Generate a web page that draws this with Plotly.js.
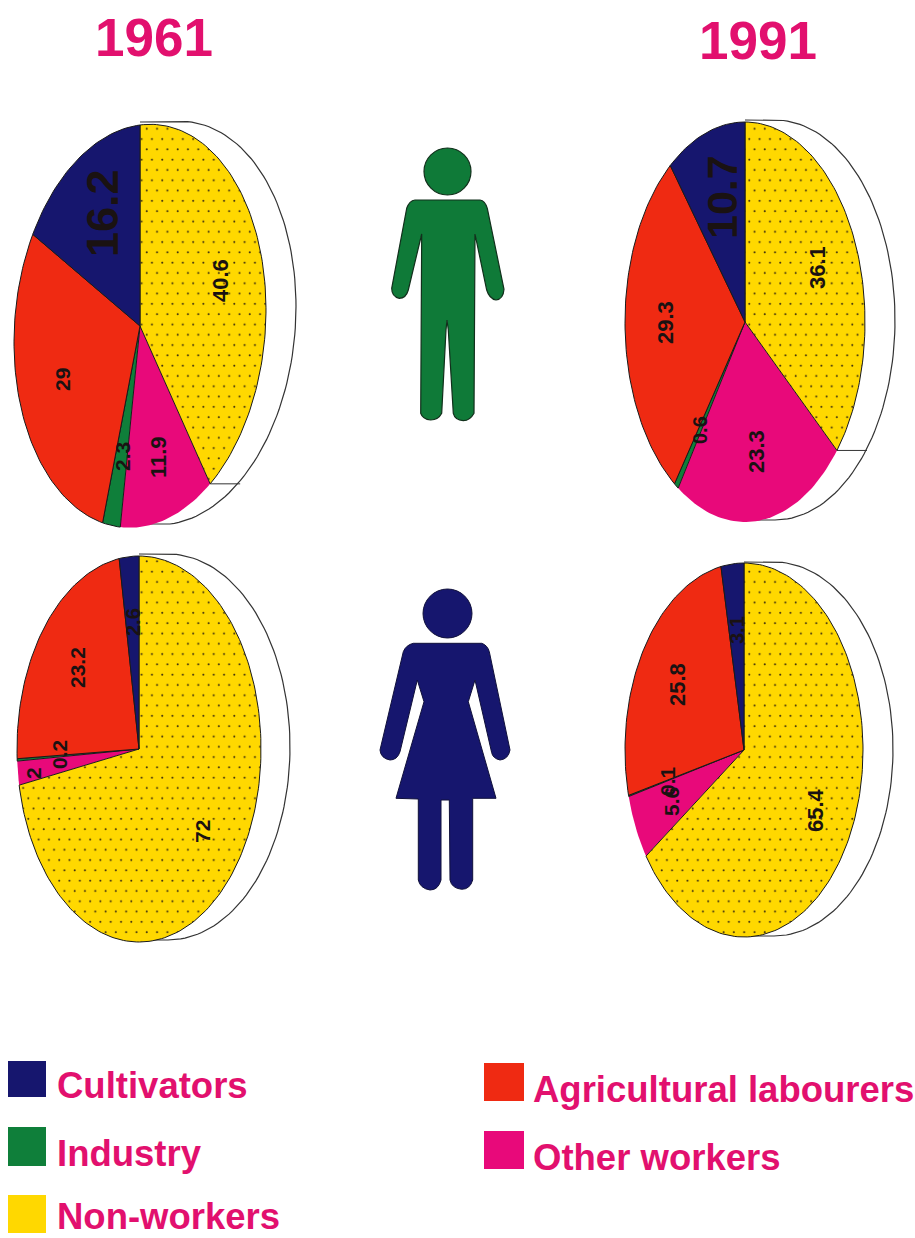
<!DOCTYPE html>
<html>
<head>
<meta charset="utf-8">
<script src="https://cdn.plot.ly/plotly-3.0.1.min.js"></script>
<style>html,body{margin:0;padding:0;background:#fff}#chart{width:915px;height:1238px}</style>
</head>
<body>
<div id="chart"></div>
<script>
// ---- data ----
var categories = ['Non-workers', 'Other workers', 'Industry', 'Agricultural labourers', 'Cultivators'];
var male1961 = [40.6, 11.9, 2.3, 29, 16.2];
var male1991 = [36.1, 23.3, 0.6, 29.3, 10.7];
var female1961 = [72, 2, 0.2, 23.2, 2.6];
var female1991 = [65.4, 5.6, 0.1, 25.8, 3.1];
var years = ['1961', '1991'];
var legendCategories = ['Cultivators', 'Industry', 'Non-workers', 'Agricultural labourers', 'Other workers'];

// ---- style and placement ----
var colors = {'Non-workers':'#ffd800','Other workers':'#e8097a','Industry':'#0f7f3a','Agricultural labourers':'#ef2a12','Cultivators':'#16166e'};
var pink = '#e2106e';
var labelFont = 'Liberation Sans, Arial, sans-serif';
var pies = [
  {name:'Men 1961', vals:male1961, cx:140, cy:326, rx:126, ry:201, shear:0.13, dx:30, dy:-3,
   lx:[220,158,122,62,102], ly:[281,457,457,380,213], fs:[22,22,21,21,45]},
  {name:'Men 1991', vals:male1991, cx:745, cy:322, rx:120, ry:200, shear:0, dx:30, dy:-2,
   lx:[817,756,700,665,722], ly:[268,452,430,323,197], fs:[22,22,20,22,43]},
  {name:'Women 1961', vals:female1961, cx:139, cy:749, rx:122, ry:193, shear:0, dx:29, dy:-2,
   lx:[202,33,59,77,133], ly:[832,773,755,668,622], fs:[21,21,21,21,20]},
  {name:'Women 1991', vals:female1991, cx:744, cy:750, rx:119, ry:187, shear:0, dx:30, dy:-1,
   lx:[815,671,667,677,737], ly:[810,802,781,685,630], fs:[22,21,21,22,20]}
];

function pt(p, deg, ox, oy) {
  var a = deg * Math.PI / 180, sx = p.rx * Math.sin(a), sy = -p.ry * Math.cos(a);
  return [p.cx + sx + (ox||0), p.cy + sy - p.shear * sx + (oy||0)];
}

var traces = [], annotations = [], shapes = [];

pies.forEach(function (p) {
  // extruded rim behind the pie
  var rx = [], ry = [];
  var tip = pt(p, 0, p.dx, p.dy);
  rx.push(p.cx); ry.push(tip[1]);
  for (var d = 0; d <= 180; d += 2) { var q = pt(p, d, p.dx, p.dy); rx.push(q[0]); ry.push(q[1]); }
  rx.push(p.cx); ry.push(ry[ry.length-1]);
  traces.push({type:'scatter', mode:'lines', x:rx, y:ry, fill:'toself', fillcolor:'#ffffff',
    line:{color:'#333333', width:1.2}, hoverinfo:'skip', showlegend:false});
  // slices, clockwise from twelve o'clock; the pink slice has no outline of its own, so it goes down first
  var total = p.vals.reduce(function (a, b) { return a + b; }, 0), cum = 0, sliceTraces = [];
  p.vals.forEach(function (v, i) {
    var a0 = cum / total * 360, a1 = (cum + v) / total * 360;
    cum += v;
    var xs = [p.cx], ys = [p.cy], n = Math.max(2, Math.ceil((a1 - a0) / 1.5));
    for (var k = 0; k <= n; k++) { var e = pt(p, a0 + (a1 - a0) * k / n); xs.push(e[0]); ys.push(e[1]); }
    xs.push(p.cx); ys.push(p.cy);
    var isPink = categories[i] === 'Other workers';
    var t = {type:'scatter', mode:'lines', x:xs, y:ys, fill:'toself', fillcolor:colors[categories[i]],
      line:{color:'#1a1a1a', width:isPink ? 0 : 1}, name:categories[i], showlegend:false,
      hoveron:'fills', text:p.name + ' ' + categories[i] + ': ' + v + '%', hoverinfo:'text'};
    if (i === 0) {
      t.fillpattern = {shape:'.', bgcolor:colors[categories[i]], fgcolor:'#3a2c10', size:10.3, solidity:0.03};
      // end face of the extrusion, seen at the yellow slice's lower edge
      var f = pt(p, a1), g = pt(p, a1, p.dx, p.dy);
      if (p.name.indexOf('Men') === 0) {
        traces.push({type:'scatter', mode:'lines', x:[f[0], g[0]], y:[f[1], f[1]], line:{color:'#333333', width:1}, hoverinfo:'skip', showlegend:false});
      }
    }
    if (isPink) sliceTraces.unshift(t); else sliceTraces.push(t);
    annotations.push({x:p.lx[i], y:p.ly[i], xref:'x', yref:'y', text:'<b>' + v + '</b>', textangle:-90, showarrow:false,
      xanchor:'center', yanchor:'middle', font:{family:labelFont, size:p.fs[i], color:'#1a1212'}});
  });
  traces = traces.concat(sliceTraces);
});

// year headings
[[154, 37], [758, 40]].forEach(function (c, i) {
  annotations.push({x:c[0], y:c[1], xref:'x', yref:'y', text:'<b>' + years[i] + '</b>', showarrow:false,
    xanchor:'center', yanchor:'middle', font:{family:labelFont, size:53, color:pink}});
});

// legend
var legendBoxes = [[8,46,1061,1097],[8,46,1127,1166],[8,46,1195,1233],[484,524,1063,1101],[484,524,1131,1169]];
var legendText = [[55,1085],[55,1153],[55,1216.5],[531,1089],[531,1157]];
legendCategories.forEach(function (c, i) {
  var b = legendBoxes[i];
  shapes.push({type:'rect', xref:'x', yref:'y', x0:b[0], x1:b[1], y0:b[2], y1:b[3], fillcolor:colors[c], line:{width:0}});
  annotations.push({x:legendText[i][0], y:legendText[i][1], xref:'x', yref:'y', text:'<b>' + c + '</b>', showarrow:false,
    xanchor:'left', yanchor:'middle', font:{family:labelFont, size:36.5, color:pink}});
});

// human figures, outlined from the picture
function figurePath(ox, oy, cmds) {
  return cmds.map(function (c) {
    var out = c[0];
    for (var i = 1; i < c.length; i += 2) out += ' ' + (ox + c[i] / 3).toFixed(1) + ',' + (oy + c[i + 1] / 3).toFixed(1);
    return out;
  }).join(' ') + ' Z';
}
var manCmds = [['M',135,210],['L',330,210],['Q',345,212,352,235],['L',402,478],['Q',400,508,378,510],['Q',358,506,350,480],
  ['L',315,312],['L',312,850],['Q',300,872,280,872],['Q',255,870,250,850],['L',235,600],['L',231,570],['L',228,600],['L',215,850],
  ['Q',205,870,182,870],['Q',158,868,152,850],['L',155,312],['L',115,480],['Q',108,505,88,505],['Q',65,500,65,475],['L',110,235],['Q',118,212,135,210]];
var womanCmds = [['M',160,190],['L',365,190],['Q',382,195,388,215],['L',450,510],['Q',445,538,420,540],['Q',398,535,395,518],
  ['L',345,300],['L',325,365],['L',408,655],['L',338,655],['L',338,900],['Q',330,928,305,928],['Q',275,925,270,900],['L',268,660],['L',243,660],
  ['L',243,900],['Q',235,930,210,930],['Q',180,925,175,900],['L',175,657],['L',108,655],['L',192,365],['L',172,300],['L',120,515],
  ['Q',112,540,90,540],['Q',62,535,60,510],['L',130,215],['Q',138,195,160,190]];
shapes.push({type:'path', xref:'x', yref:'y', path:figurePath(370,130,manCmds), fillcolor:'#0f7a38', line:{color:'#12301c', width:1.2}});
shapes.push({type:'circle', xref:'x', yref:'y', x0:424, x1:471, y0:148, y1:195, fillcolor:'#0f7a38', line:{color:'#12301c', width:1.2}});
shapes.push({type:'path', xref:'x', yref:'y', path:figurePath(360,580,womanCmds), fillcolor:'#16166e', line:{color:'#10103a', width:1}});
shapes.push({type:'circle', xref:'x', yref:'y', x0:423, x1:472, y0:589, y1:638, fillcolor:'#16166e', line:{color:'#10103a', width:1}});

var layout = {
  width:915, height:1238, margin:{l:0, r:0, t:0, b:0}, paper_bgcolor:'#ffffff', plot_bgcolor:'#ffffff',
  xaxis:{range:[0,915], visible:false, fixedrange:true},
  yaxis:{range:[1238,0], visible:false, fixedrange:true},
  showlegend:false, shapes:shapes, annotations:annotations, hovermode:'closest'
};
Plotly.newPlot('chart', traces, layout, {displayModeBar:false}).then(function (gd) {
  // stagger the print-screen dots: alternate rows shift by half a period
  var period = 10.3;
  gd.querySelectorAll('pattern').forEach(function (pat) {
    var dot = pat.querySelector('circle');
    if (!dot) return;
    pat.setAttribute('width', period);
    pat.setAttribute('height', period * 2);
    var back = pat.querySelector('rect');
    if (back) { back.setAttribute('width', period); back.setAttribute('height', period * 2); }
    dot.setAttribute('cx', period / 4);
    dot.setAttribute('cy', period / 2);
    var second = dot.cloneNode(true);
    second.setAttribute('cx', period * 3 / 4);
    second.setAttribute('cy', period * 3 / 2);
    pat.appendChild(second);
  });
});
</script>
</body>
</html>
